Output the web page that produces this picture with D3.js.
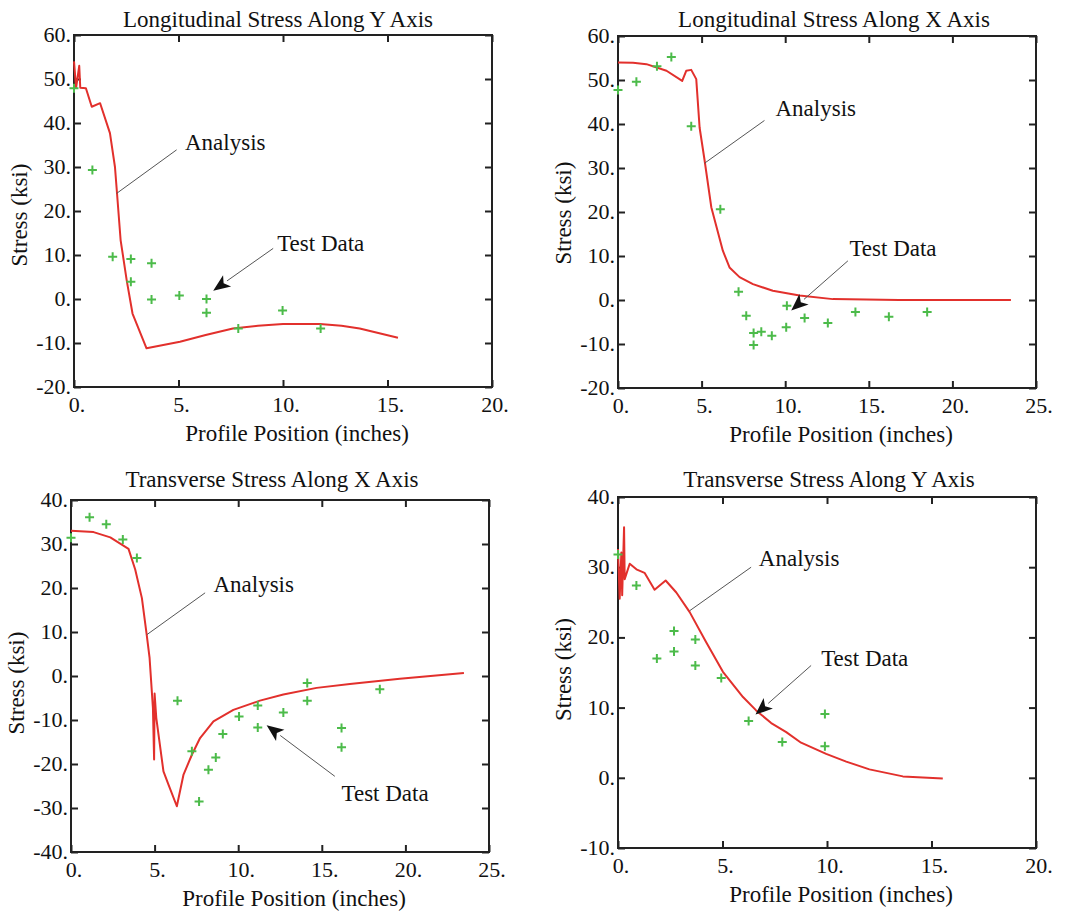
<!DOCTYPE html>
<html>
<head>
<meta charset="utf-8">
<script src="https://cdn.jsdelivr.net/npm/d3@7"></script>
<style>
  body { margin: 0; background: #fff; }
  text { font-family: "Liberation Serif", "Times New Roman", serif; fill: #111; }
</style>
</head>
<body>
<script>

/* Data */

var longYAnalysisX = [0, 0.1, 0.25, 0.3, 0.57, 0.85, 1.25, 1.72, 1.96, 2.07, 2.23, 2.52, 2.8, 3.47, 5.07, 6.3, 7.6, 8.8, 10.0, 11.76, 12.8, 13.67, 15.5];
var longYAnalysisY = [54, 48, 53, 48, 47.9, 43.7, 44.5, 37.7, 30, 23.3, 13.4, 4.3, -3.3, -11.2, -9.7, -8.2, -6.7, -6.1, -5.7, -5.7, -6.1, -6.7, -8.8];
var longYTestX = [0, 0.88, 1.85, 2.72, 2.72, 3.71, 3.71, 5.04, 6.34, 6.34, 7.86, 9.98, 11.8];
var longYTestY = [47.9, 29.3, 9.6, 9.1, 3.9, 8.1, -0.1, 0.8, 0, -3.1, -6.7, -2.6, -6.7];

var longXAnalysisX = [0, 0.9, 1.7, 2.9, 3.84, 4.08, 4.38, 4.68, 4.88, 5.18, 5.58, 6.27, 6.67, 7.27, 8.07, 9.26, 10.86, 12.85, 14.84, 16.8, 23.5];
var longXAnalysisY = [54, 53.9, 53.6, 52.1, 49.8, 52.1, 52.3, 50.2, 39.2, 31.7, 21.1, 11.2, 7.4, 5.2, 3.6, 2.1, 1.0, 0.2, 0.1, 0, 0];
var longXTestX = [0, 1.1, 2.33, 3.19, 4.38, 6.12, 7.21, 7.67, 8.11, 8.11, 8.57, 9.2, 10.06, 10.1, 11.16, 12.55, 14.2, 16.2, 18.49];
var longXTestY = [47.7, 49.6, 53.1, 55.2, 39.5, 20.6, 1.9, -3.6, -7.5, -10.2, -7.2, -8.1, -6.2, -1.3, -4.1, -5.2, -2.7, -3.8, -2.7];

var transXAnalysisX = [0, 1.35, 2.35, 3.44, 3.84, 4.24, 4.54, 4.7, 4.9, 4.97, 5.0, 5.1, 5.53, 5.83, 6.33, 6.73, 7.23, 7.72, 8.52, 9.71, 11.3, 12.7, 14.69, 16.68, 19.67, 23.5];
var transXAnalysisY = [33, 32.7, 31.5, 28.9, 24.2, 17.7, 9.0, 4.1, -7.3, -19, -4, -9.5, -21.7, -24.7, -29.6, -22.4, -17.9, -14.1, -10.3, -7.7, -5.6, -4.2, -2.7, -1.8, -0.6, 0.7];
var transXTestX = [0, 1.11, 2.11, 3.1, 3.94, 6.37, 7.23, 7.66, 8.22, 8.66, 9.08, 10.05, 11.17, 11.17, 12.7, 14.13, 14.13, 16.18, 16.18, 18.47];
var transXTestY = [31.4, 36.1, 34.5, 31.0, 26.8, -5.6, -17.1, -28.5, -21.3, -18.5, -13.2, -9.2, -6.7, -11.7, -8.3, -1.6, -5.6, -11.8, -16.2, -3.0];

var transYAnalysisX = [0, 0.08, 0.16, 0.2, 0.29, 0.32, 0.56, 0.88, 1.27, 1.75, 2.28, 2.79, 3.43, 4.22, 5.02, 5.98, 6.61, 7.33, 8.05, 8.76, 9.96, 10.92, 12.03, 13.63, 15.54];
var transYAnalysisY = [32.6, 25.5, 32.1, 26, 35.7, 28.3, 30.5, 29.7, 29.2, 26.8, 28.1, 26.4, 23.6, 19.3, 15.1, 11.5, 9.6, 7.8, 6.5, 5.0, 3.4, 2.3, 1.2, 0.2, -0.1];
var transYTestX = [0, 0.88, 1.86, 2.68, 2.68, 3.7, 3.7, 4.94, 6.25, 7.86, 9.9, 9.9];
var transYTestY = [31.8, 27.4, 17.0, 20.9, 18.0, 19.7, 16.0, 14.2, 8.1, 5.1, 9.1, 4.5];

var xTicks20 = [0, 5, 10, 15, 20];
var xTicks25 = [0, 5, 10, 15, 20, 25];
var yTicksLong = [-20, -10, 0, 10, 20, 30, 40, 50, 60];
var yTicksTransX = [-40, -30, -20, -10, 0, 10, 20, 30, 40];
var yTicksTransY = [-10, 0, 10, 20, 30, 40];

var titles = ["Longitudinal Stress Along Y Axis", "Longitudinal Stress Along X Axis",
              "Transverse Stress Along X Axis", "Transverse Stress Along Y Axis"];


/* Panels */

var panels = [
  { title: titles[0], left: 74, right: 492, top: 35, bottom: 387, titleDy: -8, titleDx: -5, ylabDy: 4,
    xt: xTicks20, yt: yTicksLong,
    ax: longYAnalysisX, ay: longYAnalysisY, tx: longYTestX, ty: longYTestY,
    anaText: [5.31, 33.9], anaLine: [[4.91, 33.9], [2.04, 24.0]],
    testText: [9.72, 11.0], testArrow: [[9.53, 11.5], [6.66, 1.9]] },
  { title: titles[1], left: 618, right: 1036, top: 36, bottom: 388, titleDy: -9, titleDx: 7, ylabDy: 1,
    xt: xTicks25, yt: yTicksLong,
    ax: longXAnalysisX, ay: longXAnalysisY, tx: longXTestX, ty: longXTestY,
    anaText: [9.42, 41.9], anaLine: [[8.76, 40.8], [5.18, 31.1]],
    testText: [13.84, 10.1], testArrow: [[13.75, 8.9], [10.36, -2.4]] },
  { title: titles[2], left: 71, right: 489, top: 500, bottom: 852, titleDy: -13, titleDx: -8, ylabDy: 7,
    xt: xTicks25, yt: yTicksTransX,
    ax: transXAnalysisX, ay: transXAnalysisY, tx: transXTestX, ty: transXTestY,
    anaText: [8.52, 19.2], anaLine: [[8.02, 18.9], [4.54, 9.4]],
    testText: [16.18, -28.5], testArrow: [[15.78, -22.8], [11.7, -11.2]] },
  { title: titles[3], left: 618, right: 1036, top: 497, bottom: 848, titleDy: -10, titleDx: 2, ylabDy: -3,
    xt: xTicks20, yt: yTicksTransY,
    ax: transYAnalysisX, ay: transYAnalysisY, tx: transYTestX, ty: transYTestY,
    anaText: [6.74, 30.2], anaLine: [[6.37, 30.0], [3.43, 23.8]],
    testText: [9.72, 15.9], testArrow: [[9.24, 16.0], [6.58, 9.0]] }
];

var svg = d3.select("body")
    .append("svg")
    .attr("width", 1073)
    .attr("height", 913);

svg.append("rect").attr("width", 1073).attr("height", 913).attr("fill", "#fff");

var fmt = function(d) { return d + "."; };
var tickLen = 7;

panels.forEach(function(p) {

    var x = d3.scaleLinear()
        .domain(d3.extent(p.xt))
        .range([p.left, p.right]);

    var y = d3.scaleLinear()
        .domain(d3.extent(p.yt))
        .range([p.bottom, p.top]);

    var g = svg.append("g");

    // ticks inward on all four sides
    g.append("g").attr("transform", "translate(0," + p.bottom + ")")
        .call(d3.axisTop(x).tickValues(p.xt).tickSize(tickLen).tickFormat(""));
    g.append("g").attr("transform", "translate(0," + p.top + ")")
        .call(d3.axisBottom(x).tickValues(p.xt).tickSize(tickLen).tickFormat(""));
    g.append("g").attr("transform", "translate(" + p.left + ",0)")
        .call(d3.axisRight(y).tickValues(p.yt).tickSize(tickLen).tickFormat(""));
    g.append("g").attr("transform", "translate(" + p.right + ",0)")
        .call(d3.axisLeft(y).tickValues(p.yt).tickSize(tickLen).tickFormat(""));
    g.selectAll(".domain").remove();
    g.selectAll(".tick line").attr("stroke", "#222").attr("stroke-width", 2);

    g.append("rect")
        .attr("x", p.left).attr("y", p.top)
        .attr("width", p.right - p.left).attr("height", p.bottom - p.top)
        .attr("fill", "none").attr("stroke", "#222").attr("stroke-width", 2);

    // tick labels
    g.selectAll(".xl").data(p.xt).enter().append("text")
        .attr("x", function(d) { return x(d) + 3; })
        .attr("y", p.bottom + 25)
        .attr("text-anchor", "middle")
        .attr("font-size", 22)
        .text(fmt);

    g.selectAll(".yl").data(p.yt).enter().append("text")
        .attr("x", p.left - 3)
        .attr("y", function(d) { return y(d) + 7; })
        .attr("text-anchor", "end")
        .attr("font-size", 22)
        .text(fmt);

    // titles
    g.append("text")
        .attr("x", (p.left + p.right) / 2 + p.titleDx)
        .attr("y", p.top + p.titleDy)
        .attr("text-anchor", "middle")
        .attr("font-size", 23)
        .text(p.title);

    g.append("text")
        .attr("x", (p.left + p.right) / 2 + 14)
        .attr("y", p.bottom + 54)
        .attr("text-anchor", "middle")
        .attr("font-size", 23)
        .text("Profile Position (inches)");

    g.append("text")
        .attr("transform", "translate(" + (p.left - 47) + "," + ((p.top + p.bottom) / 2 + p.ylabDy) + ") rotate(-90)")
        .attr("text-anchor", "middle")
        .attr("font-size", 23)
        .text("Stress (ksi)");

    // analysis line
    var pts = p.ax.map(function(v, i) { return [v, p.ay[i]]; });
    g.append("path")
        .datum(pts)
        .attr("fill", "none")
        .attr("stroke", "#e2302c")
        .attr("stroke-width", 2)
        .attr("stroke-linejoin", "round")
        .attr("d", d3.line().x(function(d) { return x(d[0]); }).y(function(d) { return y(d[1]); }));

    // test data crosses
    var tpts = p.tx.map(function(v, i) { return [v, p.ty[i]]; });
    g.selectAll(".pt").data(tpts).enter().append("path")
        .attr("transform", function(d) { return "translate(" + x(d[0]) + "," + y(d[1]) + ")"; })
        .attr("d", "M-4.5,0H4.5M0,-4.5V4.5")
        .attr("stroke", "#4cbb4a")
        .attr("stroke-width", 2)
        .attr("fill", "none");

    // annotations
    g.append("line")
        .attr("x1", x(p.anaLine[0][0])).attr("y1", y(p.anaLine[0][1]))
        .attr("x2", x(p.anaLine[1][0])).attr("y2", y(p.anaLine[1][1]))
        .attr("stroke", "#555").attr("stroke-width", 1);

    g.append("text")
        .attr("x", x(p.anaText[0])).attr("y", y(p.anaText[1]))
        .attr("font-size", 23)
        .text("Analysis");

    var x1 = x(p.testArrow[0][0]), y1 = y(p.testArrow[0][1]);
    var x2 = x(p.testArrow[1][0]), y2 = y(p.testArrow[1][1]);
    var ang = Math.atan2(y2 - y1, x2 - x1);
    var hl = 17, hw = 7;
    var bx = x2 - hl * Math.cos(ang), by = y2 - hl * Math.sin(ang);

    g.append("line")
        .attr("x1", x1).attr("y1", y1)
        .attr("x2", bx).attr("y2", by)
        .attr("stroke", "#555").attr("stroke-width", 1);

    g.append("path")
        .attr("d", "M" + x2 + "," + y2 +
            "L" + (bx + hw * Math.sin(ang)) + "," + (by - hw * Math.cos(ang)) +
            "L" + (x2 - hl * 0.75 * Math.cos(ang)) + "," + (y2 - hl * 0.75 * Math.sin(ang)) +
            "L" + (bx - hw * Math.sin(ang)) + "," + (by + hw * Math.cos(ang)) + "Z")
        .attr("fill", "#111");

    g.append("text")
        .attr("x", x(p.testText[0])).attr("y", y(p.testText[1]))
        .attr("font-size", 23)
        .text("Test Data");
});

</script>
</body>
</html>
